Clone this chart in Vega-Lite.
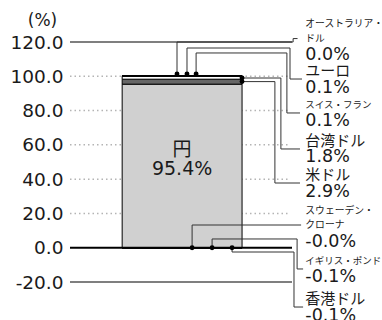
{
  "$schema": "https://vega.github.io/schema/vega-lite/v6.json",
  "width": 222,
  "height": 240,
  "autosize": "none",
  "padding": {"left": 70, "top": 42, "right": 90, "bottom": 38},
  "background": "#ffffff",
  "config": {"view": {"stroke": null}},
  "datasets": {
    "bars": [
      {"currency": "円", "value": 95.4, "order": 1},
      {"currency": "米ドル", "value": 2.9, "order": 2},
      {"currency": "台湾ドル", "value": 1.8, "order": 3},
      {"currency": "スイス・フラン", "value": 0.1, "order": 4},
      {"currency": "ユーロ", "value": 0.1, "order": 5},
      {"currency": "オーストラリア・ドル", "value": 0.02, "order": 6},
      {"currency": "スウェーデン・クローナ", "value": -0.02, "order": 7},
      {"currency": "イギリス・ポンド", "value": -0.1, "order": 8},
      {"currency": "香港ドル", "value": -0.1, "order": 9}
    ],
    "grid": [
      {"y": 20}, {"y": 40}, {"y": 60}, {"y": 80}, {"y": 100}
    ],
    "frame": [
      {"y": 120, "kind": "edge"}, {"y": -20, "kind": "edge"}, {"y": 0, "kind": "zero"}
    ],
    "leaders": [
      {"currency": "オーストラリア・ドル", "i": 0, "x": 48.2, "y": 101.3},
      {"currency": "オーストラリア・ドル", "i": 1, "x": 48.2, "y": 120},
      {"currency": "オーストラリア・ドル", "i": 2, "x": 100.5, "y": 120},
      {"currency": "オーストラリア・ドル", "i": 3, "x": 100.5, "y": 122},
      {"currency": "オーストラリア・ドル", "i": 4, "x": 102.5, "y": 122},
      {"currency": "ユーロ", "i": 0, "x": 52.7, "y": 101.3},
      {"currency": "ユーロ", "i": 1, "x": 52.7, "y": 116.5},
      {"currency": "ユーロ", "i": 2, "x": 99.1, "y": 116.5},
      {"currency": "ユーロ", "i": 3, "x": 99.1, "y": 98.4},
      {"currency": "ユーロ", "i": 4, "x": 104.5, "y": 98.4},
      {"currency": "スイス・フラン", "i": 0, "x": 56.8, "y": 101.3},
      {"currency": "スイス・フラン", "i": 1, "x": 56.8, "y": 113.6},
      {"currency": "スイス・フラン", "i": 2, "x": 97.7, "y": 113.6},
      {"currency": "スイス・フラン", "i": 3, "x": 97.7, "y": 78.6},
      {"currency": "スイス・フラン", "i": 4, "x": 103.6, "y": 78.6},
      {"currency": "台湾ドル", "i": 0, "x": 77.5, "y": 99.0},
      {"currency": "台湾ドル", "i": 1, "x": 95.0, "y": 99.0},
      {"currency": "台湾ドル", "i": 2, "x": 95.0, "y": 57.6},
      {"currency": "台湾ドル", "i": 3, "x": 103.6, "y": 57.6},
      {"currency": "米ドル", "i": 0, "x": 77.5, "y": 96.9},
      {"currency": "米ドル", "i": 1, "x": 92.3, "y": 96.9},
      {"currency": "米ドル", "i": 2, "x": 92.3, "y": 37.75},
      {"currency": "米ドル", "i": 3, "x": 103.6, "y": 37.75},
      {"currency": "スウェーデン・クローナ", "i": 0, "x": 55.0, "y": 0},
      {"currency": "スウェーデン・クローナ", "i": 1, "x": 55.0, "y": 13.25},
      {"currency": "スウェーデン・クローナ", "i": 2, "x": 104.1, "y": 13.25},
      {"currency": "イギリス・ポンド", "i": 0, "x": 64.0, "y": 0},
      {"currency": "イギリス・ポンド", "i": 1, "x": 64.0, "y": 5.1},
      {"currency": "イギリス・ポンド", "i": 2, "x": 102.3, "y": 5.1},
      {"currency": "イギリス・ポンド", "i": 3, "x": 102.3, "y": -12.4},
      {"currency": "イギリス・ポンド", "i": 4, "x": 105.0, "y": -12.4},
      {"currency": "香港ドル", "i": 0, "x": 73.0, "y": 0},
      {"currency": "香港ドル", "i": 1, "x": 73.0, "y": -2.5},
      {"currency": "香港ドル", "i": 2, "x": 100.9, "y": -2.5},
      {"currency": "香港ドル", "i": 3, "x": 100.9, "y": -34.6},
      {"currency": "香港ドル", "i": 4, "x": 105.0, "y": -34.6}
    ],
    "labels": [
      {"currency": "円", "name": "円", "pct": "95.4%", "y": 51.75},
      {"currency": "オーストラリア・ドル", "name": ["オーストラリア・", "ドル"], "pct": "0.0%", "y": 122},
      {"currency": "ユーロ", "name": "ユーロ", "pct": "0.1%", "y": 98.4},
      {"currency": "スイス・フラン", "name": "スイス・フラン", "pct": "0.1%", "y": 78.6},
      {"currency": "台湾ドル", "name": "台湾ドル", "pct": "1.8%", "y": 57.6},
      {"currency": "米ドル", "name": "米ドル", "pct": "2.9%", "y": 37.75},
      {"currency": "スウェーデン・クローナ", "name": ["スウェーデン・", "クローナ"], "pct": "-0.0%", "y": 13.25},
      {"currency": "イギリス・ポンド", "name": "イギリス・ポンド", "pct": "-0.1%", "y": -12.4},
      {"currency": "香港ドル", "name": "香港ドル", "pct": "-0.1%", "y": -34.6}
    ]
  },
  "encoding": {
    "y": {
      "field": "y", "type": "quantitative",
      "scale": {"domain": [-20, 120], "nice": false, "zero": false},
      "axis": {
        "title": "(%)", "titleAngle": 0, "titleX": -28, "titleY": -22,
        "titleAlign": "center", "titleBaseline": "middle",
        "titleFont": "DejaVu Sans", "titleFontSize": 17, "titleFontWeight": "normal", "titleColor": "#1a1a1a",
        "values": [-20, 0, 20, 40, 60, 80, 100, 120],
        "labelExpr": "(datum.value < 0 ? '-' : '') + format(abs(datum.value), '.1f')",
        "labelFont": "DejaVu Sans", "labelFontSize": 18.5, "labelColor": "#1a1a1a",
        "labelPadding": 7, "ticks": false, "domain": false, "grid": false
      }
    }
  },
  "layer": [
    {
      "data": {"name": "grid"},
      "mark": {"type": "rule", "color": "#b4b4b4", "strokeWidth": 1.5, "strokeDash": [1.5, 3]},
      "encoding": {
        "x": {"datum": 0, "type": "quantitative", "scale": {"domain": [0, 100], "nice": false, "zero": false}, "axis": null},
        "x2": {"datum": 98.2}
      }
    },
    {
      "data": {"name": "bars"},
      "transform": [
        {"stack": "value", "groupby": [], "sort": [{"field": "order", "order": "ascending"}], "as": ["y", "y1"], "offset": "zero"}
      ],
      "mark": {"type": "bar", "stroke": "#000000", "strokeWidth": 1},
      "encoding": {
        "x": {"datum": 23.5, "type": "quantitative", "scale": {"domain": [0, 100], "nice": false, "zero": false}, "axis": null},
        "x2": {"datum": 77.5},
        "y2": {"field": "y1"},
        "color": {
          "field": "currency", "type": "nominal", "legend": null,
          "scale": {
            "domain": ["円", "米ドル", "台湾ドル", "スイス・フラン", "ユーロ", "オーストラリア・ドル", "スウェーデン・クローナ", "イギリス・ポンド", "香港ドル"],
            "range": ["#d0d0d0", "#666666", "#ffffff", "#888888", "#444444", "#aaaaaa", "#888888", "#444444", "#aaaaaa"]
          }
        }
      }
    },
    {
      "data": {"name": "frame"},
      "mark": {"type": "rule"},
      "encoding": {
        "color": {"condition": {"test": "datum.kind === 'zero'", "value": "#000000"}, "value": "#555555"},
        "strokeWidth": {"condition": {"test": "datum.kind === 'zero'", "value": 2}, "value": 1.3}
      }
    },
    {
      "data": {"name": "leaders"},
      "mark": {"type": "line", "color": "#333333", "strokeWidth": 1, "interpolate": "linear"},
      "encoding": {
        "x": {"field": "x", "type": "quantitative", "scale": {"domain": [0, 100], "nice": false, "zero": false}, "axis": null},
        "detail": {"field": "currency", "type": "nominal"},
        "order": {"field": "i", "type": "quantitative"}
      }
    },
    {
      "data": {"name": "leaders"},
      "transform": [{"filter": "datum.i === 0"}],
      "mark": {"type": "circle", "color": "#000000", "size": 24, "opacity": 1},
      "encoding": {
        "x": {"field": "x", "type": "quantitative", "scale": {"domain": [0, 100], "nice": false, "zero": false}, "axis": null}
      }
    },
    {
      "data": {"name": "labels"},
      "transform": [{"filter": "datum.currency !== '円' && !isArray(datum.name)"}],
      "mark": {"type": "text", "align": "left", "baseline": "middle", "dy": -8, "font": "Noto Sans CJK JP", "color": "#1a1a1a"},
      "encoding": {
        "x": {"datum": 106, "type": "quantitative", "scale": {"domain": [0, 100], "nice": false, "zero": false}, "axis": null},
        "text": {"field": "name"},
        "size": {"condition": {"test": "length(datum.name) > 4", "value": 9.5}, "value": 15}
      }
    },
    {
      "data": {"name": "labels"},
      "transform": [{"filter": "isArray(datum.name)"}],
      "mark": {"type": "text", "align": "left", "baseline": "middle", "dy": -14.5, "lineHeight": 14.5, "fontSize": 9.8, "font": "Noto Sans CJK JP", "color": "#1a1a1a"},
      "encoding": {
        "x": {"datum": 106, "type": "quantitative", "scale": {"domain": [0, 100], "nice": false, "zero": false}, "axis": null},
        "text": {"field": "name"}
      }
    },
    {
      "data": {"name": "labels"},
      "transform": [{"filter": "datum.currency !== '円' && !isArray(datum.name)"}],
      "mark": {"type": "text", "align": "left", "baseline": "middle", "dy": 8.5, "fontSize": 17.5, "font": "DejaVu Sans", "color": "#1a1a1a"},
      "encoding": {
        "x": {"datum": 106, "type": "quantitative", "scale": {"domain": [0, 100], "nice": false, "zero": false}, "axis": null},
        "text": {"field": "pct"}
      }
    },
    {
      "data": {"name": "labels"},
      "transform": [{"filter": "isArray(datum.name)"}],
      "mark": {"type": "text", "align": "left", "baseline": "middle", "dy": 16.5, "fontSize": 17.5, "font": "DejaVu Sans", "color": "#1a1a1a"},
      "encoding": {
        "x": {"datum": 106, "type": "quantitative", "scale": {"domain": [0, 100], "nice": false, "zero": false}, "axis": null},
        "text": {"field": "pct"}
      }
    },
    {
      "data": {"name": "labels"},
      "transform": [{"filter": "datum.currency === '円'"}],
      "mark": {"type": "text", "align": "center", "baseline": "middle", "dy": -9.5, "fontSize": 19, "font": "Noto Sans CJK JP", "color": "#1a1a1a"},
      "encoding": {
        "x": {"datum": 50.5, "type": "quantitative", "scale": {"domain": [0, 100], "nice": false, "zero": false}, "axis": null},
        "text": {"field": "name"}
      }
    },
    {
      "data": {"name": "labels"},
      "transform": [{"filter": "datum.currency === '円'"}],
      "mark": {"type": "text", "align": "center", "baseline": "middle", "dy": 9.5, "fontSize": 19, "font": "DejaVu Sans", "color": "#1a1a1a"},
      "encoding": {
        "x": {"datum": 50.5, "type": "quantitative", "scale": {"domain": [0, 100], "nice": false, "zero": false}, "axis": null},
        "text": {"field": "pct"}
      }
    }
  ]
}
